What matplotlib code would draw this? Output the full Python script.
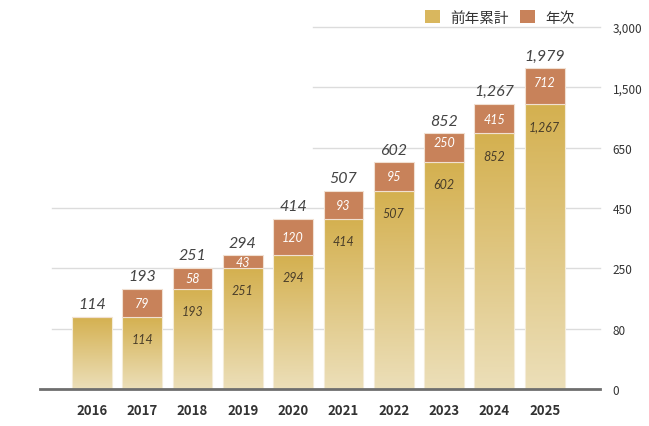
import numpy as np
import matplotlib
matplotlib.use('Agg')
import matplotlib.pyplot as plt
from matplotlib.colors import LinearSegmentedColormap
from matplotlib.patches import Patch

years = ['2016', '2017', '2018', '2019', '2020', '2021', '2022', '2023', '2024', '2025']
cumulative = [0, 114, 193, 251, 294, 414, 507, 602, 852, 1267]   # 前年累計
annual = [114, 79, 58, 43, 120, 93, 95, 250, 415, 712]          # 年次
totals = [114, 193, 251, 294, 414, 507, 602, 852, 1267, 1979]
yticks = [0, 80, 250, 450, 650, 1500, 3000]

gold_top = '#d4b04f'
gold_bottom = '#ecdfb9'
terra = '#c8825a'
txt_dark = '#444444'

plt.rcParams['font.family'] = ['Noto Sans CJK JP', 'DejaVu Sans']

fig = plt.figure(figsize=(6.49, 4.27), dpi=100)
ax = fig.add_axes([40/649, 37/427, 560/649, 362/427])

# piecewise scale: tick values evenly spaced
steps = np.arange(len(yticks))
fwd = lambda v: np.interp(v, yticks, steps)
inv = lambda u: np.interp(u, steps, yticks)
ax.set_yscale('function', functions=(fwd, inv))
XLIM = (-1.03, 10.1)
ax.set_ylim(0, 3000)
ax.set_xlim(*XLIM)
ax.set_autoscale_on(False)

x = np.arange(len(years))
w = 0.79

# first year has no split: the whole bar is gold
gold_h = [t if c == 0 else c for c, t in zip(cumulative, totals)]
top_h = [0 if c == 0 else a for c, a in zip(cumulative, annual)]

gold_bars = ax.bar(x, gold_h, width=w, color='none', edgecolor='#f4ecd8', linewidth=0.8, zorder=3)
ax.bar(x, top_h, width=w, bottom=gold_h, color=terra, edgecolor='#f1e0d2', linewidth=0.8, zorder=3)

# vertical gradient for gold segments
cmap = LinearSegmentedColormap.from_list('g', [gold_bottom, gold_top])
grad = np.linspace(0, 1, 256).reshape(-1, 1)
to_axes = ax.transScale + ax.transLimits
for xi, h, bar in zip(x, gold_h, gold_bars):
    (x0, y0) = to_axes.transform((xi - w/2, 0))
    (x1, y1) = to_axes.transform((xi + w/2, h))
    im = ax.imshow(grad, cmap=cmap, origin='lower', aspect='auto',
                   extent=(x0, x1, y0, y1), transform=ax.transAxes, zorder=2)
    im.set_clip_path(bar)
ax.set_ylim(0, 3000)
ax.set_xlim(*XLIM)

ital = dict(family='Lato', style='italic')
for xi, c, a, t in zip(x, cumulative, annual, totals):
    ax.annotate(f'{t:,}', (xi, t), xytext=(0, 4), textcoords='offset points',
                ha='center', va='bottom', fontsize=11.5, color=txt_dark, zorder=6, **ital)
    if c > 0:
        ax.annotate(f'{a:,}', (xi, (c + t) / 2), ha='center', va='center',
                    fontsize=9, color='white', zorder=6, **ital)
        ax.annotate(f'{c:,}', (xi, c), xytext=(0, -16), textcoords='offset points',
                    ha='center', va='center', fontsize=9, color='#4a3e2a', zorder=6, **ital)

# gridlines
for v in yticks[1:]:
    start = 0.021 if v <= 450 else 0.4875
    ax.axhline(v, xmin=start, xmax=1, color='#dcdcdc', lw=1, zorder=1, clip_on=False)
ax.axhline(0, color='#6e6e6e', lw=2, zorder=4, clip_on=False)

ax.set_yticks(yticks)
ax.set_yticklabels([f'{v:,}' for v in yticks])
ax.yaxis.tick_right()
ax.tick_params(axis='y', length=0, pad=9, labelsize=8.5, labelcolor='#333333')
ax.set_xticks(x)
ax.set_xticklabels(years, fontweight='bold')
ax.tick_params(axis='x', length=0, pad=10, labelsize=9.5, labelcolor='#333333')
ax.minorticks_off()
for s in ax.spines.values():
    s.set_visible(False)

handles = [Patch(facecolor='#d9b75e', edgecolor='none', label='前年累計'),
           Patch(facecolor=terra, edgecolor='none', label='年次')]
leg = fig.legend(handles=handles, loc='upper right', bbox_to_anchor=(0.905, 1.005), ncol=2,
                 frameon=False, handlelength=1.0, handleheight=1.0, handletextpad=0.7,
                 columnspacing=0.8, prop={'size': 10.5})
for t in leg.get_texts():
    t.set_color('#333333')

fig.savefig('out.png', dpi=100)
